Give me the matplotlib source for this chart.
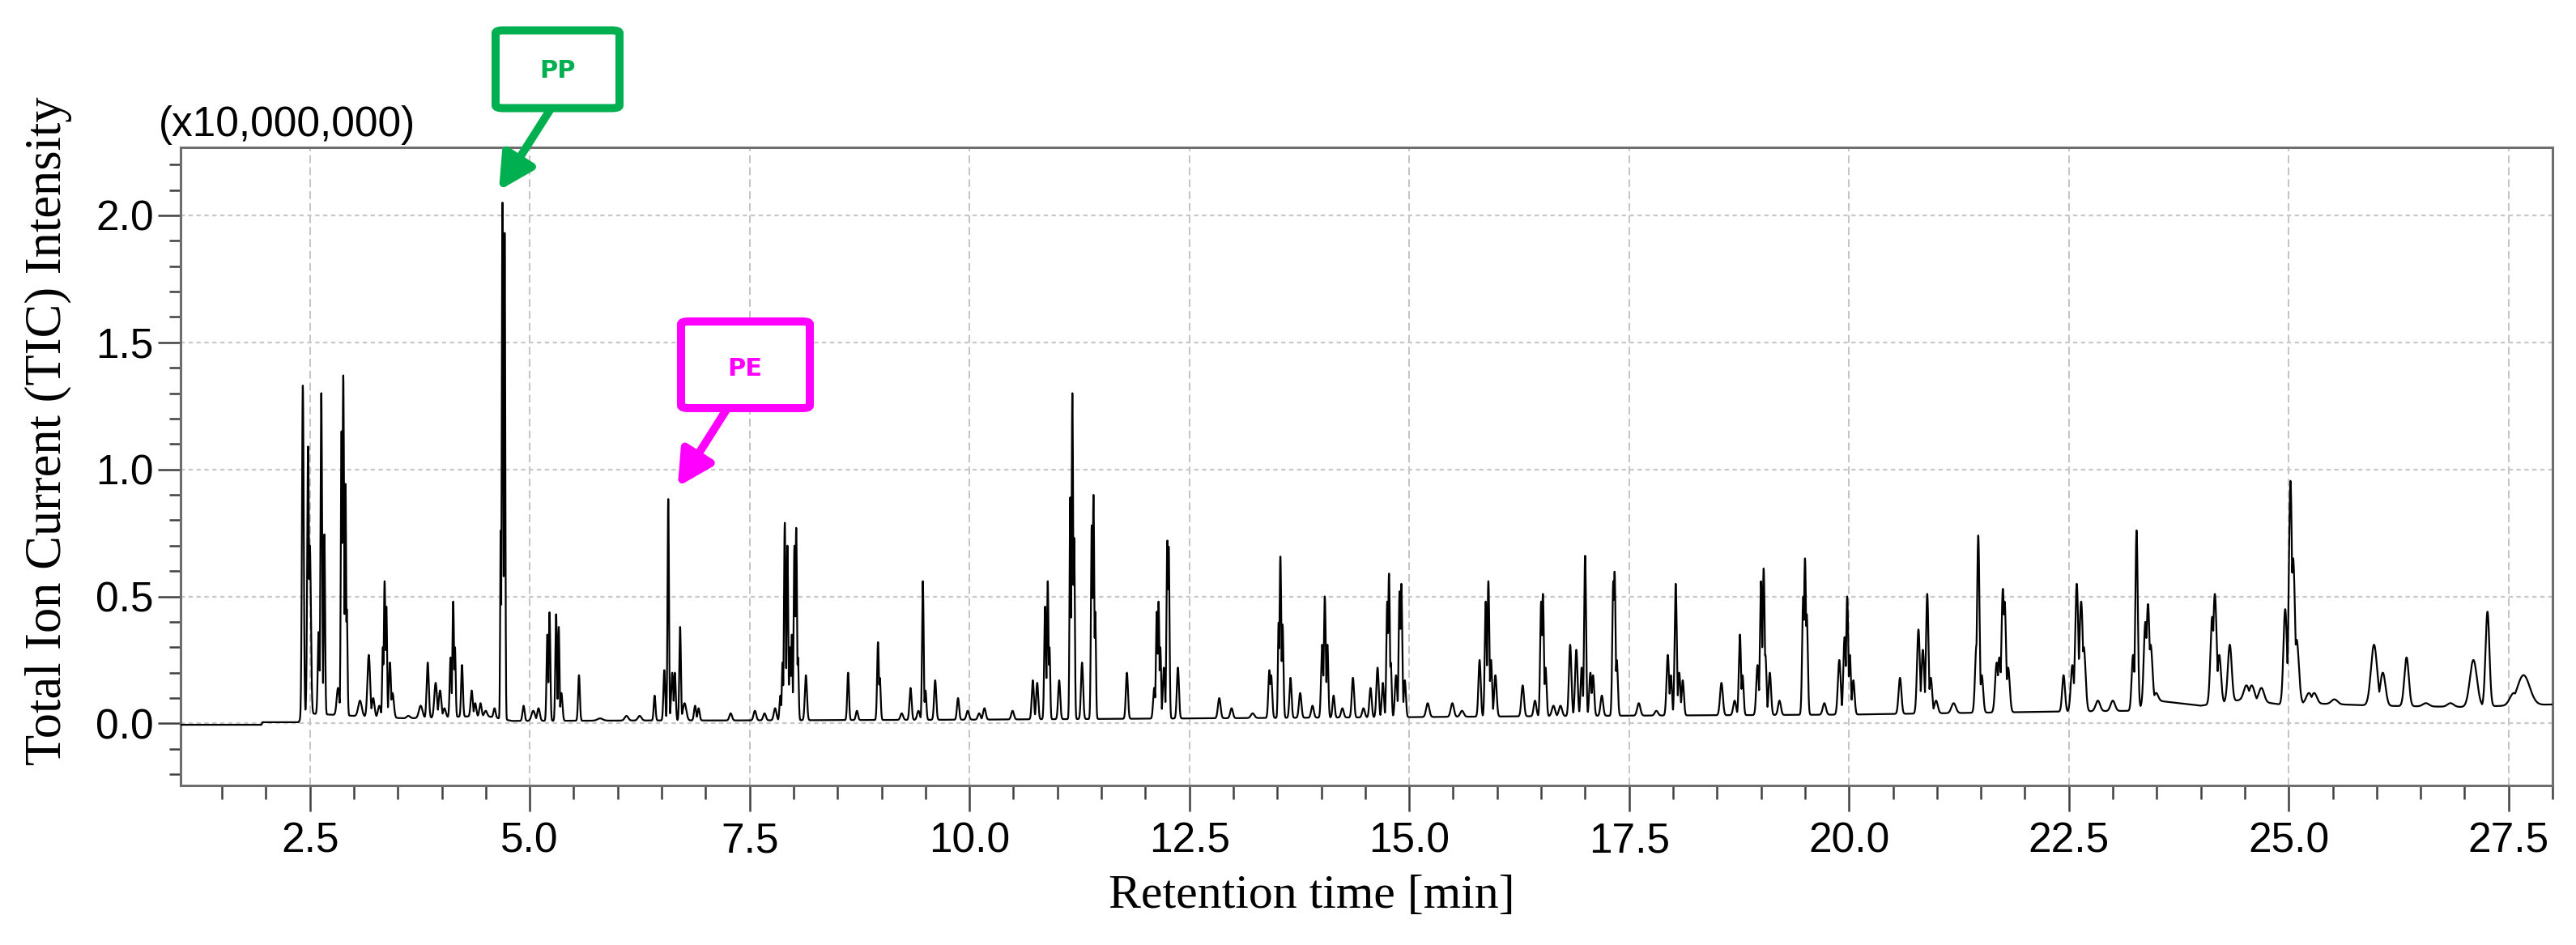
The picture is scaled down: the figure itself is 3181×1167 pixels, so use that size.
import numpy as np
import matplotlib
matplotlib.use('Agg')
import matplotlib.pyplot as plt
from matplotlib.patches import FancyBboxPatch
from matplotlib.ticker import MultipleLocator, FormatStrFormatter

# Peaks: retention time [min], apex intensity (x1e7), width (sigma, min)
peak_rt = [2.42, 2.48, 2.50, 2.60, 2.63, 2.665, 2.82, 2.86, 2.88, 2.905, 2.92,
           3.07, 3.17, 3.22, 3.29, 3.33, 3.35, 3.37, 3.41, 3.44, 3.62, 3.76, 3.84,
           3.93, 3.98, 4.03, 4.10, 4.13, 4.15, 4.23, 4.34, 4.38, 4.44, 4.50, 4.60,
           4.67, 4.69, 4.715, 4.93, 5.04, 5.10, 5.20, 5.225, 5.30, 5.33, 5.36, 5.56,
           5.80, 6.10, 6.25, 6.42, 6.53, 6.575, 6.62, 6.65, 6.71, 6.76, 6.88, 6.92,
           7.285, 7.56, 7.67, 7.79, 7.85, 7.874, 7.90, 7.93, 7.96, 7.98, 8.01, 8.03,
           8.05, 8.14, 8.62, 8.72, 8.96, 8.98, 9.23, 9.33, 9.42, 9.47, 9.50, 9.61,
           9.87, 9.98, 10.11, 10.17, 10.49, 10.72, 10.77, 10.86, 10.89, 10.91, 11.02,
           11.146, 11.17, 11.19, 11.28, 11.39, 11.41, 11.43, 11.79, 12.10, 12.13,
           12.15, 12.17, 12.21, 12.25, 12.265, 12.37, 12.84, 12.98, 13.22, 13.41,
           13.43, 13.515, 13.535, 13.56, 13.65, 13.76, 13.90, 14.01, 14.04, 14.07,
           14.14, 14.24, 14.36, 14.48, 14.56, 14.64, 14.70, 14.75, 14.77, 14.79,
           14.85, 14.89, 14.91, 14.95, 15.21, 15.49,
           15.60, 15.80, 15.87, 15.90, 15.93, 15.98, 16.29, 16.43, 16.50, 16.52,
           16.55, 16.64, 16.72, 16.83, 16.90, 16.96, 17.00, 17.06, 17.09, 17.19,
           17.32, 17.335, 17.36, 17.61, 17.81, 17.94, 17.975, 18.03, 18.07, 18.11,
           18.55, 18.70, 18.76, 18.79, 18.96, 19.00, 19.03, 19.05, 19.10, 19.21,
           19.48, 19.50, 19.52, 19.72, 19.89, 19.95, 19.98, 20.01, 20.05,
           20.58, 20.79, 20.84, 20.89, 20.93, 20.99, 21.19, 21.45, 21.47, 21.51,
           21.68, 21.71, 21.75, 21.77, 21.81, 22.44, 22.54, 22.59, 22.64, 22.67,
           22.83, 23.00, 23.23, 23.27, 23.37, 23.40, 23.43, 23.49, 23.72, 24.13,
           24.16, 24.21, 24.33, 24.52, 24.58, 24.69,
           24.96, 25.02, 25.05, 25.09, 25.23, 25.29, 25.52, 25.97, 26.07, 26.34,
           26.56, 26.84, 27.10, 27.26, 27.56, 27.67]
peak_height = [1.33, 1.09, 0.70, 0.36, 1.30, 0.75, 0.14, 1.15, 1.37, 0.95, 0.45,
               0.09, 0.27, 0.10, 0.07, 0.30, 0.56, 0.46, 0.24, 0.12, 0.03, 0.07, 0.24,
               0.16, 0.13, 0.06, 0.26, 0.48, 0.30, 0.23, 0.13, 0.08, 0.08, 0.05, 0.06,
               0.76, 2.05, 1.95, 0.07, 0.05, 0.06, 0.35, 0.44, 0.43, 0.38, 0.12, 0.19,
               0.02, 0.03, 0.03, 0.11, 0.21, 0.89, 0.20, 0.20, 0.38, 0.08, 0.07, 0.06,
               0.04, 0.05, 0.04, 0.06, 0.11, 0.24, 0.79, 0.70, 0.30, 0.35, 0.70, 0.77,
               0.26, 0.19, 0.20, 0.05, 0.32, 0.18, 0.04, 0.14, 0.05, 0.56, 0.13, 0.17,
               0.10, 0.05, 0.04, 0.06, 0.05, 0.17, 0.16, 0.46, 0.56, 0.30, 0.17,
               0.89, 1.30, 0.73, 0.24, 0.78, 0.90, 0.44, 0.20, 0.14, 0.44,
               0.48, 0.30, 0.22, 0.72, 0.70, 0.22, 0.10, 0.06, 0.04, 0.21,
               0.19, 0.40, 0.66, 0.39, 0.18, 0.12, 0.07, 0.31, 0.50, 0.31,
               0.11, 0.06, 0.18, 0.06, 0.14, 0.22, 0.16, 0.48, 0.59, 0.24,
               0.19, 0.52, 0.55, 0.17, 0.08, 0.08,
               0.05, 0.25, 0.48, 0.56, 0.25, 0.19, 0.15, 0.09, 0.48, 0.51,
               0.22, 0.07, 0.07, 0.31, 0.29, 0.22, 0.66, 0.20, 0.19, 0.11,
               0.56, 0.60, 0.25, 0.08, 0.05, 0.27, 0.19, 0.55, 0.20, 0.17,
               0.16, 0.09, 0.35, 0.19, 0.23, 0.56, 0.61, 0.27, 0.20, 0.09,
               0.50, 0.65, 0.43, 0.08, 0.25, 0.34, 0.50, 0.27, 0.17,
               0.18, 0.37, 0.29, 0.51, 0.18, 0.09, 0.08, 0.31, 0.74, 0.19,
               0.24, 0.26, 0.53, 0.48, 0.22, 0.19, 0.23, 0.55, 0.48, 0.30,
               0.09, 0.09, 0.27, 0.76, 0.40, 0.47, 0.31, 0.12, 0.08, 0.42,
               0.51, 0.27, 0.31, 0.15, 0.15, 0.14,
               0.45, 0.955, 0.65, 0.33, 0.12, 0.12, 0.095, 0.31, 0.20, 0.26,
               0.08, 0.08, 0.25, 0.44, 0.12, 0.19]
peak_width = [0.010, 0.010, 0.012, 0.010, 0.009, 0.008, 0.015, 0.008, 0.009, 0.008, 0.008,
              0.020, 0.015, 0.015, 0.015, 0.008, 0.009, 0.008, 0.012, 0.015, 0.020, 0.020, 0.012,
              0.015, 0.015, 0.015, 0.010, 0.009, 0.008, 0.010, 0.012, 0.012, 0.012, 0.015, 0.012,
              0.006, 0.008, 0.007, 0.012, 0.020, 0.015, 0.009, 0.009, 0.009, 0.008, 0.012, 0.010,
              0.030, 0.020, 0.020, 0.010, 0.010, 0.008, 0.012, 0.010, 0.009, 0.020, 0.012, 0.012,
              0.015, 0.015, 0.015, 0.015, 0.010, 0.008, 0.009, 0.009, 0.010, 0.008, 0.009, 0.009,
              0.008, 0.012, 0.010, 0.012, 0.010, 0.010, 0.015, 0.012, 0.015, 0.009, 0.010, 0.012,
              0.012, 0.015, 0.015, 0.015, 0.015, 0.012, 0.012, 0.010, 0.009, 0.008, 0.012,
              0.008, 0.009, 0.008, 0.012, 0.009, 0.009, 0.008, 0.012, 0.012, 0.010,
              0.009, 0.009, 0.012, 0.010, 0.009, 0.012, 0.015, 0.015, 0.020, 0.012,
              0.012, 0.008, 0.010, 0.010, 0.012, 0.014, 0.015, 0.012, 0.011, 0.010,
              0.012, 0.015, 0.013, 0.015, 0.013, 0.013, 0.012, 0.010, 0.010, 0.010,
              0.013, 0.010, 0.011, 0.012, 0.018, 0.018,
              0.020, 0.013, 0.011, 0.011, 0.012, 0.014, 0.015, 0.015, 0.011, 0.011,
              0.012, 0.018, 0.018, 0.014, 0.014, 0.012, 0.011, 0.013, 0.013, 0.015,
              0.011, 0.011, 0.012, 0.018, 0.018, 0.014, 0.012, 0.012, 0.013, 0.013,
              0.016, 0.016, 0.012, 0.012, 0.014, 0.012, 0.012, 0.012, 0.014, 0.016,
              0.012, 0.012, 0.012, 0.018, 0.016, 0.014, 0.012, 0.012, 0.014,
              0.016, 0.016, 0.016, 0.014, 0.016, 0.020, 0.025, 0.016, 0.014, 0.016,
              0.018, 0.018, 0.016, 0.016, 0.018, 0.016, 0.018, 0.018, 0.020, 0.020,
              0.025, 0.025, 0.016, 0.014, 0.018, 0.018, 0.020, 0.025, 0.035, 0.020,
              0.020, 0.020, 0.022, 0.030, 0.030, 0.030,
              0.020, 0.018, 0.022, 0.025, 0.030, 0.030, 0.035, 0.035, 0.030, 0.025,
              0.035, 0.035, 0.040, 0.022, 0.045, 0.070]

# baseline drift under the peaks
base_rt = [1.0, 1.95, 1.96, 2.37, 2.45, 3.0, 3.6, 4.5, 4.8, 6.5, 7.3, 10.0, 12.5,
           15.0, 17.0, 20.0, 22.0, 23.2, 23.5, 24.0, 24.5, 24.9, 25.2, 26.0, 27.0, 28.0]
base_level = [-0.005, -0.005, 0.005, 0.005, 0.04, 0.03, 0.02, 0.03, 0.01, 0.012, 0.012,
              0.015, 0.02, 0.025, 0.03, 0.035, 0.045, 0.05, 0.09, 0.07, 0.095, 0.075,
              0.08, 0.07, 0.065, 0.075]

x_ticks_major = 2.5
y_ticks_major = 0.5

GREEN = '#00B050'
MAGENTA = '#FF00FF'

# build the trace: baseline plus the envelope of the peaks
t = np.arange(1.03, 28.0, 0.002)
base = np.interp(t, base_rt, base_level)
envelope = np.zeros_like(t)
for rt, h, w in zip(peak_rt, peak_height, peak_width):
    amp = max(h - np.interp(rt, base_rt, base_level), 0.0)
    envelope = np.maximum(envelope, amp * np.exp(-0.5 * ((t - rt) / w) ** 2))
tic = base + envelope

fig = plt.figure(figsize=(15.905, 5.835), dpi=200)
ax = fig.add_axes([0.0701, 0.1688, 0.9208, 0.6754])

ax.plot(t, tic, color='black', lw=0.8, zorder=3)

ax.set_xlim(1.03, 28.0)
ax.set_ylim(-0.244, 2.268)

ax.xaxis.set_major_locator(MultipleLocator(x_ticks_major))
ax.xaxis.set_minor_locator(MultipleLocator(0.5))
ax.yaxis.set_major_locator(MultipleLocator(y_ticks_major))
ax.yaxis.set_minor_locator(MultipleLocator(0.1))
ax.xaxis.set_major_formatter(FormatStrFormatter('%.1f'))
ax.yaxis.set_major_formatter(FormatStrFormatter('%.1f'))

ax.set_axisbelow(True)
ax.grid(which='major', axis='x', color='#c4c4c4', lw=0.7, linestyle=(0, (5, 2.6)))
ax.grid(which='major', axis='y', color='#c8c8c8', lw=0.8, linestyle=(0, (2.4, 2.0)))

for s in ax.spines.values():
    s.set_color('#6e6e6e')
    s.set_linewidth(1.1)

ax.tick_params(axis='x', which='major', length=11.5, width=0.9, color='#404040', pad=4.5)
ax.tick_params(axis='x', which='minor', length=6, width=0.9, color='#404040')
ax.tick_params(axis='y', which='major', length=10, width=0.9, color='#404040', pad=2)
ax.tick_params(axis='y', which='minor', length=5, width=0.9, color='#404040')
for lab in ax.get_xticklabels() + ax.get_yticklabels():
    lab.set_fontfamily('Liberation Sans')
    lab.set_fontsize(18.5)

ax.set_xlabel('Retention time [min]', fontfamily='Liberation Serif', fontsize=21.5)
ax.xaxis.set_label_coords(0.477, -0.139)
ax.set_ylabel('Total Ion Current (TIC) Intensity', fontfamily='Liberation Serif',
              fontsize=22.5, va='center')
ax.yaxis.set_label_coords(-0.0557, 0.556)

ax.text(-0.0092, 1.004, '(x10,000,000)', transform=ax.transAxes, ha='left', va='bottom',
        fontfamily='Liberation Sans', fontsize=18.5)

# callout boxes with arrows (figure pixel geometry -> figure fraction)
W, H = 3181.0, 1167.0


def callout(label, color, box, text_xy, arrow_from, arrow_to):
    x0, y0, x1, y1 = box
    patch = FancyBboxPatch((x0 / W, 1 - y1 / H), (x1 - x0) / W, (y1 - y0) / H,
                           boxstyle='round,pad=0,rounding_size=0.003',
                           transform=fig.transFigure, facecolor='white',
                           edgecolor=color, lw=3.6, zorder=5)
    fig.patches.append(patch)
    fig.text(text_xy[0] / W, 1 - text_xy[1] / H, label, color=color, fontsize=11,
             fontweight='bold', fontfamily='DejaVu Sans', ha='center', va='center',
             zorder=6)
    ax.annotate('', xy=arrow_to, xycoords='data',
                xytext=(arrow_from[0] / W, 1 - arrow_from[1] / H),
                textcoords='figure fraction',
                arrowprops=dict(arrowstyle='-|>,head_length=0.38,head_width=0.2',
                                color=color, lw=3.6, mutation_scale=34,
                                shrinkA=0, shrinkB=0),
                annotation_clip=False, zorder=6)


callout('PP', GREEN, (612, 37.5, 765, 133.5), (688.5, 87), (679, 136), (4.649, 2.098))
callout('PE', MAGENTA, (841, 397, 1000, 504), (920, 455), (897, 506), (6.682, 0.932))

fig.savefig('out.png', dpi=200)
